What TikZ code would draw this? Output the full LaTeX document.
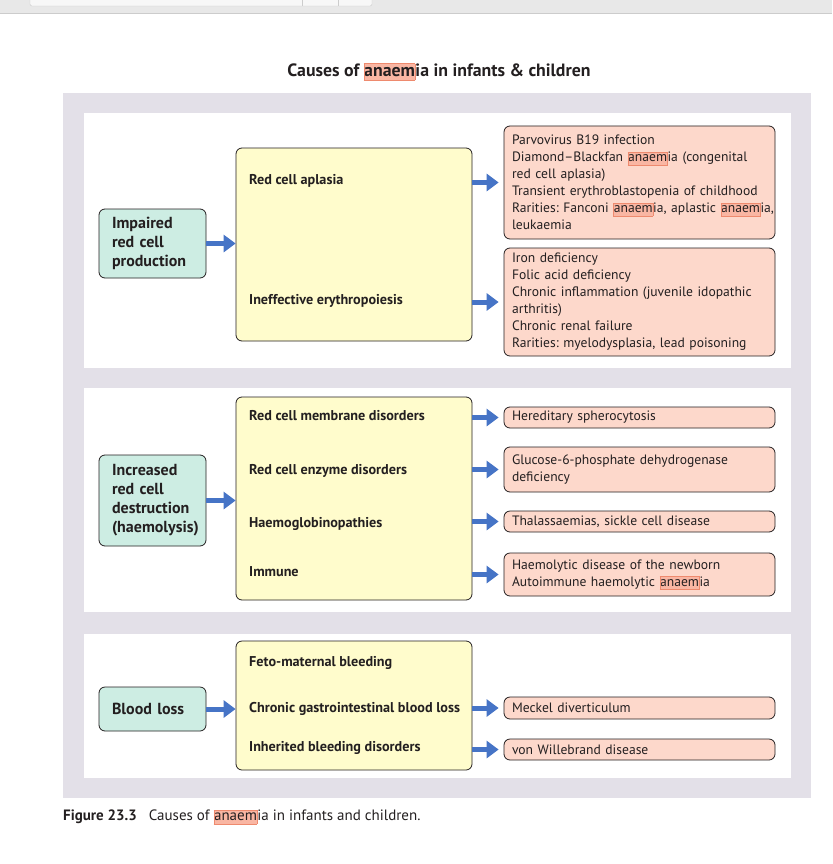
\documentclass[tikz,border=0pt]{standalone}
\usepackage{fontspec}
\setmainfont{PT Sans}
\usetikzlibrary{arrows.meta,positioning}

\definecolor{panelgray}{HTML}{E3E0E8}
\definecolor{causegreen}{HTML}{CDEDE3}
\definecolor{groupyellow}{HTML}{FFFCCC}
\definecolor{detailred}{HTML}{FDD8CB}
\definecolor{flowblue}{HTML}{4674C6}
\definecolor{inkdark}{HTML}{231F20}
\definecolor{hlfill}{HTML}{F9B6A3}
\definecolor{hlline}{HTML}{EE8A6E}
\definecolor{bargray}{HTML}{E8E8E8}
\definecolor{barline}{HTML}{CCCCCC}

\newcommand{\hlword}[1]{{\setlength{\fboxsep}{0pt}\setlength{\fboxrule}{0.5pt}\fcolorbox{hlline}{hlfill}{\vphantom{Ag}#1}}}

\begin{document}
\frenchspacing
\begin{tikzpicture}[
    x=1pt, y=-1pt,
    >={Triangle[length=12pt,width=17pt]},
    causebox/.style={
      draw=inkdark,
      line width=0.8pt,
      rounded corners=6pt,
      fill=causegreen,
      align=left,
      text width=81pt,
      inner xsep=13pt,
      inner ysep=0pt,
      minimum width=107pt,
      text=inkdark,
      font=\fontsize{16}{19}\selectfont\bfseries
    },
    groupbox/.style={
      draw=inkdark,
      line width=0.8pt,
      rounded corners=6pt,
      fill=groupyellow,
      minimum width=236pt
    },
    itemlabel/.style={
      anchor=west,
      inner sep=0pt,
      text=inkdark,
      font=\fontsize{14.2}{17}\selectfont\bfseries
    },
    detailbox/.style={
      draw=inkdark,
      line width=0.8pt,
      rounded corners=6pt,
      fill=detailred,
      align=left,
      text width=255pt,
      inner xsep=8pt,
      inner ysep=0pt,
      minimum width=271pt,
      text=inkdark,
      font=\fontsize{13.6}{17}\selectfont
    },
    panel/.style={fill=white, minimum width=707pt, inner sep=0pt},
    flow/.style={->, line width=5pt, draw=flowblue}
  ]
    \useasboundingbox (0,0) rectangle (832,864);

    \fill[bargray] (0,0) rectangle (832,13);
    \draw[barline] (0,13.5) -- (832,13.5);
    \draw[barline, fill=white!97!black, rounded corners=2pt] (30,-5) rectangle (372,6);
    \draw[barline] (302,-5) -- (302,6);
    \draw[barline] (338,-5) -- (338,6);

    \node[text=inkdark, font=\fontsize{17.8}{20}\selectfont\bfseries] (title) at (439,72) {Causes of \hlword{anaem}ia in infants \& children};

    \node[fill=panelgray, minimum width=748pt, minimum height=705pt, inner sep=0pt] (backdrop) at (437,445.5) {};
    \node[panel, minimum height=255pt] (prodpanel) at (437.5,240.5) {};
    \node[panel, minimum height=224pt] (lysispanel) at (437.5,500) {};
    \node[panel, minimum height=144pt] (losspanel) at (437.5,706) {};

    \node[causebox, minimum height=69pt] (impaired) at (152.5,243.5) {Impaired\\red cell\\production};
    \node[groupbox, minimum height=193pt] (prodgroup) at (354,244.5) {};
    \node[itemlabel] (aplasia) at (249,181) {Red cell aplasia};
    \node[itemlabel] (ineffective) at (249,301) {Ineffective erythropoiesis};
    \node[detailbox, minimum height=113pt] (aplasiacauses) at (639.5,182.5) {Parvovirus B19 infection\\Diamond--Blackfan \hlword{anaem}ia (congenital\\red cell aplasia)\\Transient erythroblastopenia of childhood\\\mbox{Rarities: Fanconi \hlword{anaem}ia, aplastic \hlword{anaem}ia,}\\leukaemia};
    \node[detailbox, minimum height=108pt] (ineffcauses) at (639.5,302) {Iron deficiency\\Folic acid deficiency\\Chronic inflammation (juvenile idopathic\\arthritis)\\Chronic renal failure\\Rarities: myelodysplasia, lead poisoning};

    \node[causebox, minimum height=91pt] (increased) at (152.5,500.5) {Increased\\red cell\\destruction\\(haemolysis)};
    \node[groupbox, minimum height=203pt] (lysisgroup) at (354,498.5) {};
    \node[itemlabel] (membrane) at (249,416) {Red cell membrane disorders};
    \node[itemlabel] (enzyme) at (249,471) {Red cell enzyme disorders};
    \node[itemlabel] (haemoglobin) at (249,524) {Haemoglobinopathies};
    \node[itemlabel] (immune) at (249,572) {Immune};
    \node[detailbox, minimum height=21pt] (spherocytosis) at (639.5,417.5) {Hereditary spherocytosis};
    \node[detailbox, minimum height=45pt] (gsixpd) at (639.5,469.5) {Glucose-6-phosphate dehydrogenase\\deficiency};
    \node[detailbox, minimum height=21pt] (thalassaemia) at (639.5,521.5) {Thalassaemias, sickle cell disease};
    \node[detailbox, minimum height=43pt] (newborn) at (639.5,574.5) {Haemolytic disease of the newborn\\Autoimmune haemolytic \hlword{anaem}ia};

    \node[causebox, minimum height=44pt] (bloodloss) at (152.5,709) {Blood loss};
    \node[groupbox, minimum height=129pt] (lossgroup) at (354,705.5) {};
    \node[itemlabel] (fetomaternal) at (249,663) {Feto-maternal bleeding};
    \node[itemlabel] (gastro) at (249,709) {Chronic gastrointestinal blood loss};
    \node[itemlabel] (inherited) at (249,748) {Inherited bleeding disorders};
    \node[detailbox, minimum height=22pt] (meckel) at (639.5,708) {Meckel diverticulum};
    \node[detailbox, minimum height=21pt] (willebrand) at (639.5,749.5) {von Willebrand disease};

    \draw[flow] (impaired.east) -- (impaired.east -| prodgroup.west);
    \draw[flow] (prodgroup.east |- aplasiacauses.west) -- ([xshift=-5pt]aplasiacauses.west);
    \draw[flow] (prodgroup.east |- ineffcauses.west) -- ([xshift=-5pt]ineffcauses.west);

    \draw[flow] (increased.east) -- (increased.east -| lysisgroup.west);
    \draw[flow] (lysisgroup.east |- spherocytosis.west) -- ([xshift=-5pt]spherocytosis.west);
    \draw[flow] (lysisgroup.east |- gsixpd.west) -- ([xshift=-5pt]gsixpd.west);
    \draw[flow] (lysisgroup.east |- thalassaemia.west) -- ([xshift=-5pt]thalassaemia.west);
    \draw[flow] (lysisgroup.east |- newborn.west) -- ([xshift=-5pt]newborn.west);

    \draw[flow] (bloodloss.east) -- (bloodloss.east -| lossgroup.west);
    \draw[flow] (lossgroup.east |- meckel.west) -- ([xshift=-5pt]meckel.west);
    \draw[flow] (lossgroup.east |- willebrand.west) -- ([xshift=-5pt]willebrand.west);

    \node[anchor=west, inner sep=0pt, text=inkdark, font=\fontsize{15}{17}\selectfont] (caption) at (63,817) {\textbf{Figure 23.3}\hspace{12pt}Causes of \hlword{anaem}ia in infants and children.};
  \end{tikzpicture}
\end{document}
